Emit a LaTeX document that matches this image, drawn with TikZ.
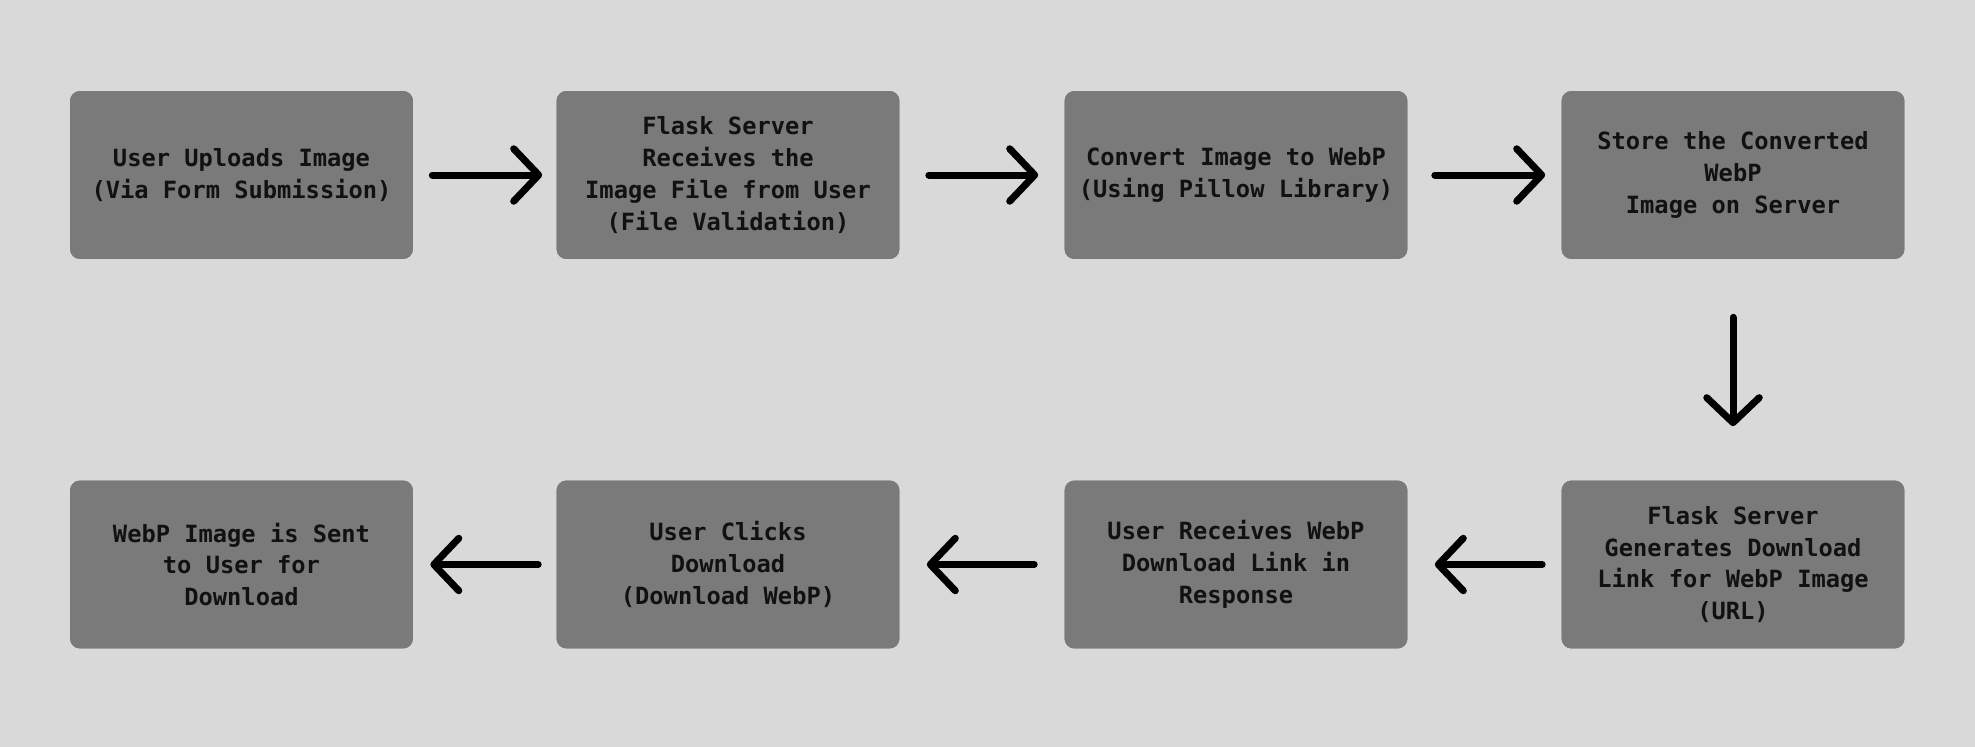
\documentclass[tikz,border=0pt]{standalone}
\usepackage{fontspec}
\setmonofont{DejaVu Sans Mono}
\usetikzlibrary{arrows.meta}
\definecolor{bggray}{HTML}{D9D9D9}
\definecolor{boxgray}{HTML}{7A7A7A}
\definecolor{inkblack}{HTML}{111111}
\tikzset{
  stepbox/.style={rectangle, rounded corners=0.2cm, fill=boxgray, text=inkblack,
    minimum width=6.86cm, minimum height=3.36cm, inner sep=0pt, align=center,
    font=\ttfamily\bfseries\fontsize{13.5}{18.1}\selectfont},
  flow/.style={draw=black, line width=0.14cm, line cap=round,
    -{Straight Barb[length=0.5cm, width=1.05cm, line cap=round, line join=round]}}
}
\begin{document}
\begin{tikzpicture}[x=0.02cm, y=-0.02cm]
			\fill[bggray] (0,0) rectangle (1975,747);
			
			% Top row
			\foreach \i/\x/\name in {1/241.5/upload, 2/728/receive, 3/1236/convert, 4/1733/store} {
				\node[stepbox] (\name) at (\x, 175) {};
			}
			\node[stepbox] at (upload) {User Uploads Image\\(Via Form Submission)};
			\node[stepbox] at (receive) {Flask Server\\Receives the\\Image File from User\\(File Validation)};
			\node[stepbox] at (convert) {Convert Image to WebP\\(Using Pillow Library)};
			\node[stepbox] at (store) {Store the Converted\\WebP\\Image on Server};
			
			% Bottom row
			\foreach \i/\x/\name in {1/241.5/send, 2/728/click, 3/1236/getlink, 4/1733/genlink} {
				\node[stepbox] (\name) at (\x, 564.5) {};
			}
			\node[stepbox] at (genlink) {Flask Server\\Generates Download\\Link for WebP Image\\(URL)};
			\node[stepbox] at (getlink) {User Receives WebP\\Download Link in\\Response};
			\node[stepbox] at (click) {User Clicks\\Download\\(Download WebP)};
			\node[stepbox] at (send) {WebP Image is Sent\\to User for\\Download};
			
			% Connections
			\draw[flow, shorten <=0.38cm, shorten >=0.28cm] (upload) -- (receive);
			\draw[flow, shorten <=0.58cm, shorten >=0.52cm] (receive) -- (convert);
			\draw[flow, shorten <=0.54cm, shorten >=0.32cm] (convert) -- (store);
			\draw[flow, shorten <=1.16cm, shorten >=1.08cm] (store) -- (genlink);
			\draw[flow, shorten <=0.38cm, shorten >=0.54cm] (genlink) -- (getlink);
			\draw[flow, shorten <=0.6cm, shorten >=0.54cm] (getlink) -- (click);
			\draw[flow, shorten <=0.36cm, shorten >=0.34cm] (click) -- (send);
\end{tikzpicture}
\end{document}
